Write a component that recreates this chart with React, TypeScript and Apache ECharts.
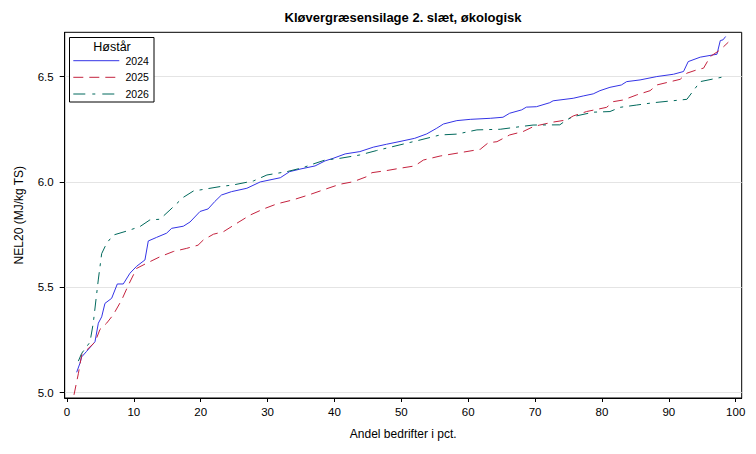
import React, { useEffect, useRef } from 'react';
import * as echarts from 'echarts';

const titleText = 'Kløvergræsensilage 2. slæt, økologisk';
const xName = 'Andel bedrifter i pct.';
const yName = 'NEL20 (MJ/kg TS)';
const legendTitle = 'Høstår';
const years = ['2024', '2025', '2026'];

const xTicks = [0, 10, 20, 30, 40, 50, 60, 70, 80, 90, 100];
const yTicks = [5.0, 5.5, 6.0, 6.5];

const s2024: [number, number][] = [
  [1.45, 5.097], [1.94, 5.14], [2.2, 5.17], [2.9, 5.195], [4.19, 5.242], [4.69, 5.33], [5.19, 5.36],
  [5.68, 5.424], [6.68, 5.448], [7.53, 5.516], [8.42, 5.516], [9.42, 5.567], [10.42, 5.6], [11.66, 5.63],
  [12.16, 5.72], [13.4, 5.737], [14.9, 5.757], [15.66, 5.78], [17.4, 5.79], [18.4, 5.81], [19.9, 5.86],
  [21.1, 5.872], [22.1, 5.907], [23.1, 5.938], [24.6, 5.954], [26.9, 5.97], [28.9, 6.0], [31.9, 6.02],
  [33.3, 6.049], [35.0, 6.062], [37.1, 6.076], [38.6, 6.1], [39.8, 6.112], [41.6, 6.133], [43.8, 6.144],
  [45.8, 6.165], [47.8, 6.179], [49.8, 6.192], [52.0, 6.207], [53.8, 6.228], [55.3, 6.255], [56.3, 6.275],
  [58.3, 6.291], [60.3, 6.297], [63.3, 6.302], [65.2, 6.307], [66.2, 6.326], [68.0, 6.342], [68.7, 6.355],
  [70.2, 6.357], [72.2, 6.376], [72.7, 6.385], [75.7, 6.397], [77.2, 6.408], [78.7, 6.418], [79.7, 6.433],
  [81.2, 6.449], [82.9, 6.46], [83.7, 6.476], [85.7, 6.484], [88.2, 6.5], [90.7, 6.511], [92.2, 6.524],
  [92.9, 6.571], [94.7, 6.592], [97.2, 6.606], [97.7, 6.671], [98.1, 6.674], [98.5, 6.69],
];

const s2025: [number, number][] = [
  [1.05, 4.99], [1.7, 5.09], [2.2, 5.18], [4.19, 5.24], [4.93, 5.3], [5.93, 5.33], [6.92, 5.37],
  [8.18, 5.44], [9.17, 5.51], [10.42, 5.59], [11.9, 5.614], [13.9, 5.645], [15.9, 5.67], [17.9, 5.685],
  [19.6, 5.7], [20.4, 5.725], [21.9, 5.752], [23.4, 5.764], [25.4, 5.804], [27.4, 5.843], [29.4, 5.872],
  [31.4, 5.896], [33.8, 5.915], [36.3, 5.94], [38.3, 5.962], [40.8, 5.989], [42.8, 6.001], [44.8, 6.025],
  [45.6, 6.044], [47.8, 6.054], [49.8, 6.065], [52.0, 6.076], [53.3, 6.104], [55.8, 6.123], [58.8, 6.139],
  [61.8, 6.155], [63.0, 6.186], [64.3, 6.191], [66.2, 6.223], [68.2, 6.239], [69.7, 6.262], [70.7, 6.27],
  [72.7, 6.284], [74.7, 6.294], [75.7, 6.313], [77.7, 6.334], [80.7, 6.354], [81.7, 6.381], [83.2, 6.389],
  [85.2, 6.413], [87.2, 6.433], [88.2, 6.46], [91.7, 6.487], [92.7, 6.516], [94.2, 6.532], [95.2, 6.54],
  [96.2, 6.595], [97.7, 6.627], [98.9, 6.663],
];

const s2026: [number, number][] = [
  [1.7, 5.15], [2.2, 5.187], [3.44, 5.24], [3.93, 5.33], [4.68, 5.535], [5.19, 5.66], [5.93, 5.709],
  [6.92, 5.748], [8.93, 5.767], [10.9, 5.788], [12.4, 5.82], [13.9, 5.823], [15.4, 5.867], [17.4, 5.927],
  [18.9, 5.957], [19.9, 5.962], [22.9, 5.978], [24.9, 5.986], [27.9, 6.005], [29.9, 6.033], [32.9, 6.049],
  [35.3, 6.068], [36.8, 6.085], [38.6, 6.104], [40.8, 6.112], [43.8, 6.128], [46.3, 6.149], [49.8, 6.176],
  [52.8, 6.199], [55.8, 6.223], [58.3, 6.227], [61.3, 6.247], [64.8, 6.25], [67.7, 6.262], [69.7, 6.27],
  [73.7, 6.271], [74.7, 6.294], [75.7, 6.31], [78.7, 6.331], [81.2, 6.334], [82.7, 6.354], [85.2, 6.365],
  [87.7, 6.376], [92.7, 6.392], [94.7, 6.476], [96.7, 6.489], [98.4, 6.5],
];

const seriesData = [s2024, s2025, s2026];
const colors = ['#3434e6', '#c4223e', '#00695c'];
const dashes: any[] = ['solid', [10, 6], [12, 6, 3, 6]];
const legendDashes: any[] = [null, [10, 6], [12, 7, 3, 7]];

export default function App() {
  const ref = useRef<HTMLDivElement>(null);
  useEffect(() => {
    const chart = echarts.init(ref.current!, null, { renderer: 'svg' });
    const font = '"Liberation Sans", Arial, sans-serif';
    const legendRows = [60.7, 77.3, 94];
    const legendItems: any[] = [];
    years.forEach((y, i) => {
      legendItems.push({
        type: 'line', z: 10,
        shape: { x1: 73.3, y1: legendRows[i], x2: 119.3, y2: legendRows[i] },
        style: { stroke: colors[i], lineWidth: 1, lineDash: legendDashes[i] || undefined },
      });
      legendItems.push({
        type: 'text', x: 125.5, y: legendRows[i], z: 10,
        style: { text: y, fontSize: 10.5, fontFamily: font, fill: '#000', textAlign: 'left', textVerticalAlign: 'middle' },
      });
    });
    chart.setOption({
      animation: false,
      backgroundColor: '#ffffff',
      textStyle: { fontFamily: font },
      grid: {
        left: 64.7, right: 14.3, top: 32.3, bottom: 56,
        show: true, borderColor: '#000', borderWidth: 1, backgroundColor: 'transparent',
      },
      xAxis: {
        type: 'value', min: -0.34, max: 100.9,
        axisLine: { show: true, onZero: false, lineStyle: { color: '#000', width: 1 } },
        axisTick: { show: true, length: 4, customValues: xTicks, lineStyle: { color: '#000' } },
        axisLabel: { customValues: xTicks, fontSize: 11.5, color: '#000', margin: 8, fontFamily: font },
        splitLine: { show: false },
        name: xName, nameLocation: 'middle', nameGap: 30,
        nameTextStyle: { fontSize: 12, color: '#000', fontFamily: font },
      },
      yAxis: {
        type: 'value', min: 4.975, max: 6.71,
        axisLine: { show: true, onZero: false, lineStyle: { color: '#000', width: 1 } },
        axisTick: { show: true, length: 5, customValues: yTicks, lineStyle: { color: '#000' } },
        axisLabel: {
          customValues: yTicks, fontSize: 11.5, color: '#000', margin: 11, fontFamily: font,
          formatter: (v: number) => v.toFixed(1),
        },
        splitLine: { show: true, lineStyle: { color: '#e4e4e4', width: 1 } },
        name: yName, nameLocation: 'middle', nameGap: 40,
        nameTextStyle: { fontSize: 12, color: '#000', fontFamily: font },
      },
      legend: { show: false },
      graphic: [
        {
          type: 'text', x: 403, y: 17, z: 10,
          style: { text: titleText, fontSize: 13, fontWeight: 'bold', fontFamily: font, fill: '#000', textAlign: 'center', textVerticalAlign: 'middle' },
        },
        {
          type: 'rect', z: 5, shape: { x: 69.5, y: 37.5, width: 84.5, height: 64.5 },
          style: { fill: '#fff', stroke: '#000', lineWidth: 1 },
        },
        {
          type: 'text', x: 112, y: 46.7, z: 10,
          style: { text: legendTitle, fontSize: 12.5, fontFamily: font, fill: '#000', textAlign: 'center', textVerticalAlign: 'middle' },
        },
        ...legendItems,
      ],
      series: seriesData.map((d, i) => ({
        name: years[i], type: 'line', data: d, symbol: 'none', showSymbol: false,
        color: colors[i],
        lineStyle: { color: colors[i], width: 1, type: dashes[i] },
        z: 2 + i,
      })),
    });
    return () => chart.dispose();
  }, []);
  return <div ref={ref} style={{ position: 'absolute', left: 0, top: 0, width: 756, height: 454 }} />;
}
